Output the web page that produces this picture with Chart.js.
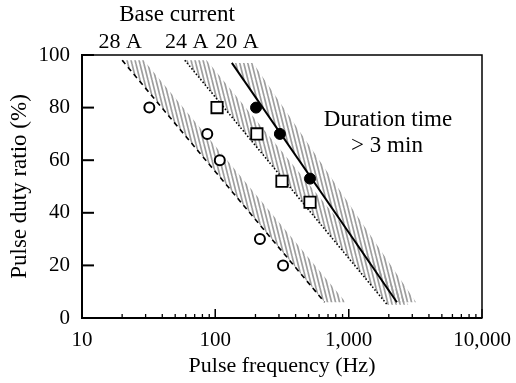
<!DOCTYPE html>
<html><head><meta charset="utf-8">
<script src="https://cdn.jsdelivr.net/npm/chart.js@4/dist/chart.umd.min.js"></script>
<style>html,body{margin:0;padding:0;background:#fff;}#wrap{width:516px;height:383px;}</style>
</head><body><div id="wrap"><canvas id="c" width="516" height="383"></canvas></div>
<script>
// ---- data ----
const seriesNames = ['28 A', '24 A', '20 A'];
// boundary lines: pulse frequency (Hz) and pulse duty ratio (%) at both ends
const line28Freq = [20, 660];
const line28Duty = [98, 6];
const line24Freq = [59, 1950];
const line24Duty = [98, 5];
const line20Freq = [133, 2300];
const line20Duty = [97, 6];
// outer edge of each hatched band (same duty values as the line)
const band28Freq = [29, 950];
const band24Freq = [86, 2800];
const band20Freq = [192, 3200];
// measured points
const pts28Freq = [32, 87, 108, 216, 322];
const pts28Duty = [80, 70, 60, 30, 20];
const pts24Freq = [103, 205, 316, 513];
const pts24Duty = [80, 70, 52, 44];
const pts20Freq = [202, 305, 513];
const pts20Duty = [80, 70, 53];
const xTicks = [10, 100, 1000, 10000];
const yTicks = [0, 20, 40, 60, 80, 100];
const titleText = 'Base current';
const noteLines = ['Duration time', '> 3 min'];
const xTitle = 'Pulse frequency (Hz)';
const yTitle = 'Pulse duty ratio (%)';

const SERIF = "'Liberation Serif', 'Times New Roman', serif";

function zip(xs, ys) { return xs.map((x, i) => ({x: x, y: ys[i]})); }
function bandShape(lf, ld, bf) {
  return [{x: lf[0], y: ld[0]}, {x: lf[1], y: ld[1]}, {x: bf[1], y: ld[1]}, {x: bf[0], y: ld[0]}];
}
function makeHatch() {
  const c = document.createElement('canvas');
  c.width = 4; c.height = 16;
  const g = c.getContext('2d');
  g.strokeStyle = '#9e9e9e';
  g.lineWidth = 1.7;
  for (const dx of [-4, 0, 4]) {
    g.beginPath(); g.moveTo(dx, 0); g.lineTo(dx + 4, 16); g.stroke();
  }
  return g.createPattern(c, 'repeat');
}
const hatch = makeHatch();

function bandDs(data) {
  return {type: 'line', data: data, showLine: true, borderWidth: 0, borderColor: 'rgba(0,0,0,0)',
          pointRadius: 0, backgroundColor: hatch, fill: 'shape', order: 5};
}
function lineDs(data, dash, w) {
  return {type: 'line', data: data, showLine: true, borderColor: '#000', borderWidth: w,
          borderDash: dash, pointRadius: 0, fill: false, order: 3};
}

const decor = {
  id: 'decor',
  afterDatasetsDraw(chart) {
    const ctx = chart.ctx, a = chart.chartArea;
    const xs = chart.scales.x, ys = chart.scales.y;
    ctx.save();
    ctx.strokeStyle = '#000';
    // frame
    ctx.lineWidth = 1.5;
    ctx.beginPath(); ctx.moveTo(a.left, a.top); ctx.lineTo(a.right, a.top); ctx.lineTo(a.right, a.bottom); ctx.stroke();
    ctx.lineWidth = 2;
    ctx.beginPath(); ctx.moveTo(a.left, a.top - 1); ctx.lineTo(a.left, a.bottom); ctx.lineTo(a.right + 0.5, a.bottom); ctx.stroke();
    // y ticks (inside)
    ctx.lineWidth = 2;
    for (const v of yTicks) {
      const y = ys.getPixelForValue(v);
      ctx.beginPath(); ctx.moveTo(a.left, y); ctx.lineTo(a.left + 12, y); ctx.stroke();
    }
    // x ticks (inside), major and minor
    ctx.lineWidth = 1.3;
    for (let d = 10; d < 10000; d *= 10) {
      for (let m = 1; m <= 10; m++) {
        const v = d * m;
        const x = xs.getPixelForValue(v);
        const len = (m === 1 || m === 10) ? 9 : 4;
        ctx.beginPath(); ctx.moveTo(x, a.bottom); ctx.lineTo(x, a.bottom - len); ctx.stroke();
      }
    }
    // texts
    ctx.fillStyle = '#000';
    ctx.textAlign = 'center';
    ctx.textBaseline = 'middle';
    ctx.font = '23px ' + SERIF;
    ctx.fillText(titleText, 177, 15);
    ctx.font = '22px ' + SERIF;
    const tops = [line28Freq[0], line24Freq[0], line20Freq[0]];
    const offs = [-2, 2, 5];
    seriesNames.forEach((s, i) => ctx.fillText(s, xs.getPixelForValue(tops[i]) + offs[i], 42));
    ctx.font = '23px ' + SERIF;
    ctx.fillText(noteLines[0], 388, 120);
    ctx.fillText(noteLines[1], 387, 146);
    ctx.restore();
  }
};

new Chart(document.getElementById('c'), {
  type: 'scatter',
  data: {
    datasets: [
      bandDs(bandShape(line28Freq, line28Duty, band28Freq)),
      bandDs(bandShape(line24Freq, line24Duty, band24Freq)),
      bandDs(bandShape(line20Freq, line20Duty, band20Freq)),
      lineDs(zip(line28Freq, line28Duty), [5, 4], 1.6),
      lineDs(zip(line24Freq, line24Duty), [1.5, 2], 1.6),
      lineDs(zip(line20Freq, line20Duty), [], 2),
      {data: zip(pts28Freq, pts28Duty), pointStyle: 'circle', pointRadius: 5, pointBorderWidth: 2,
       pointBackgroundColor: '#fff', pointBorderColor: '#000', order: 1},
      {data: zip(pts24Freq, pts24Duty), pointStyle: 'rect', pointRadius: 8, pointBorderWidth: 1.8,
       pointBackgroundColor: '#fff', pointBorderColor: '#000', order: 1},
      {data: zip(pts20Freq, pts20Duty), pointStyle: 'circle', pointRadius: 5.5, pointBorderWidth: 1,
       pointBackgroundColor: '#000', pointBorderColor: '#000', order: 1}
    ]
  },
  options: {
    responsive: false, animation: false, devicePixelRatio: 1,
    layout: {padding: {left: 0, top: 55, right: 34, bottom: 0}},
    plugins: {legend: {display: false}, tooltip: {enabled: false}},
    scales: {
      x: {
        type: 'logarithmic', min: 10, max: 10000, position: 'bottom',
        grid: {display: false}, border: {display: false},
        afterBuildTicks: s => { s.ticks = xTicks.map(v => ({value: v})); },
        afterFit: s => { s.height = 65; },
        ticks: {color: '#000', font: {family: SERIF, size: 21}, padding: 2, maxRotation: 0, autoSkip: false,
                callback: v => Number(v).toLocaleString('en-US')},
        title: {display: true, text: xTitle, color: '#000', font: {family: SERIF, size: 22}, padding: {top: 0, bottom: 4}}
      },
      y: {
        type: 'linear', min: 0, max: 100,
        grid: {display: false}, border: {display: false},
        afterBuildTicks: s => { s.ticks = yTicks.map(v => ({value: v})); },
        afterFit: s => { s.width = 82; },
        ticks: {color: '#000', font: {family: SERIF, size: 21}, padding: 4},
        title: {display: true, text: yTitle, color: '#000', font: {family: SERIF, size: 23}, padding: {top: 6, bottom: 0}}
      }
    }
  },
  plugins: [decor]
});
</script></body></html>
